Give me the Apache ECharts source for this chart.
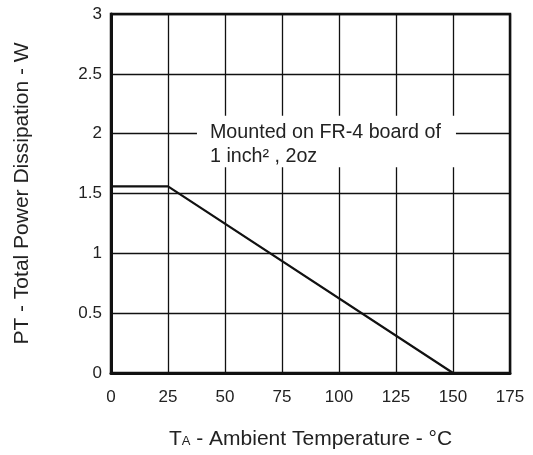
<!DOCTYPE html>
<html>
<head>
<meta charset="utf-8">
<script src="https://cdn.jsdelivr.net/npm/echarts@6/dist/echarts.min.js"></script>
<style>
  html, body { margin: 0; padding: 0; background: #fff; }
  #main { width: 533px; height: 455px; }
</style>
</head>
<body>
<div id="main"></div>
<script>
// derating curve
var tempC = [0, 25, 150];
var powerW = [1.56, 1.56, 0];
var xTicks = [0, 25, 50, 75, 100, 125, 150, 175];
var yTicks = [0, 0.5, 1, 1.5, 2, 2.5, 3];
var noteLines = ['Mounted on FR-4 board of', '1 inch\u00B2 , 2oz'];

var chart = echarts.init(document.getElementById('main'));

var points = tempC.map(function (t, i) { return [t, powerW[i]]; });

var font = 'Liberation Sans, Arial, sans-serif';

var option = {
    animation: false,
    grid: {
        left: 111, right: 23, top: 14, bottom: 81,
        show: true, borderColor: '#111', borderWidth: 2.5
    },
    xAxis: {
        type: 'value',
        min: xTicks[0], max: xTicks[xTicks.length - 1], interval: 25,
        axisLine: { show: true, lineStyle: { color: '#111', width: 3 } },
        axisTick: { show: false },
        splitLine: { show: true, lineStyle: { color: '#111', width: 1.3 } },
        axisLabel: { color: '#222', fontSize: 17, fontFamily: font, margin: 16 },
        name: '{t|T}{s|A}{t| - Ambient Temperature - \u00B0C}',
        nameLocation: 'middle', nameGap: 56,
        nameTextStyle: {
            rich: {
                t: { fontSize: 21, color: '#222', fontFamily: font },
                s: { fontSize: 13, color: '#222', fontFamily: font, padding: [4, 0, 0, 0] }
            }
        }
    },
    yAxis: {
        type: 'value',
        min: yTicks[0], max: yTicks[yTicks.length - 1], interval: 0.5,
        axisLine: { show: true, lineStyle: { color: '#111', width: 3 } },
        axisTick: { show: false },
        splitLine: { show: true, lineStyle: { color: '#111', width: 1.3 } },
        axisLabel: { color: '#222', fontSize: 17, fontFamily: font, margin: 9 },
        name: 'PT - Total Power Dissipation - W',
        nameLocation: 'middle', nameGap: 78, nameRotate: 90,
        nameTextStyle: { fontSize: 21, color: '#222', fontFamily: font }
    },
    series: [{
        type: 'line',
        data: points,
        symbol: 'none',
        lineStyle: { color: '#111', width: 2.2 },
        z: 5
    }]
};
chart.setOption(option);

// note box, placed from data coords
var p1 = chart.convertToPixel({ gridIndex: 0 }, [37.7, 2.15]);
var p2 = chart.convertToPixel({ gridIndex: 0 }, [151.3, 1.72]);
chart.setOption({
    graphic: [{
        type: 'rect', z: 10,
        shape: { x: p1[0], y: p1[1], width: p2[0] - p1[0], height: p2[1] - p1[1] },
        style: { fill: '#fff' }
    }, {
        type: 'text', z: 11,
        left: p1[0] + 13, top: p1[1] + 5,
        style: {
            text: noteLines.join('\n'),
            fill: '#222', font: '19.7px ' + font, lineHeight: 24
        }
    }]
});
</script>
</body>
</html>
